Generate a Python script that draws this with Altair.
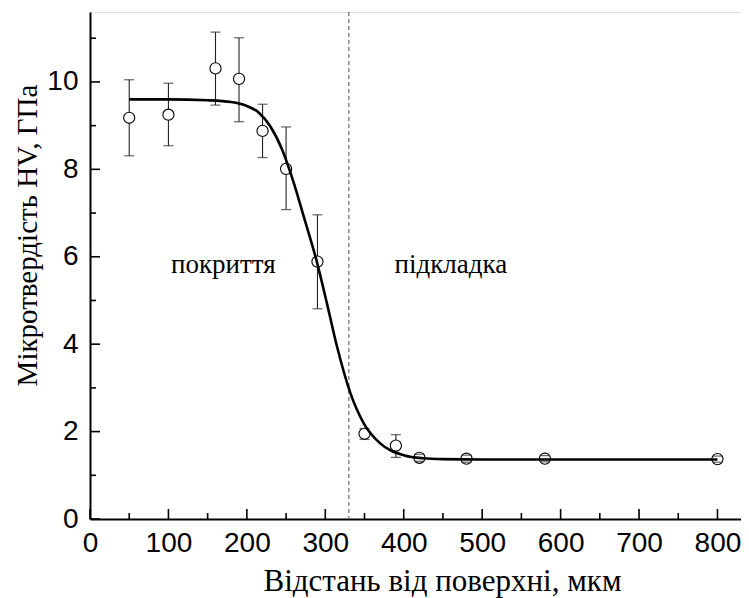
import altair as alt
import pandas as pd

# measured points
depth = [50, 100, 160, 190, 220, 250, 290, 350, 390, 420, 480, 580, 800]
hv = [9.18, 9.25, 10.31, 10.07, 8.88, 8.01, 5.89, 1.95, 1.68, 1.40, 1.38, 1.38, 1.37]
hv_lo = [8.31, 8.54, 9.47, 9.09, 8.27, 7.08, 4.81, 1.82, 1.41, 1.32, 1.30, 1.31, 1.30]
hv_hi = [10.05, 9.97, 11.14, 11.01, 9.49, 8.97, 6.96, 2.07, 1.93, 1.48, 1.46, 1.45, 1.44]

# fitted curve
curve_x = [50, 100, 150, 180, 200, 215, 230, 245, 260, 272, 289, 302, 315, 332, 349, 370, 400, 425, 450, 500, 600, 800]
curve_y = [9.60, 9.60, 9.58, 9.54, 9.45, 9.30, 8.98, 8.45, 7.68, 6.95, 5.90, 4.94, 3.94, 2.88, 2.19, 1.73, 1.46, 1.39, 1.37, 1.36, 1.36, 1.36]

boundary = [330]

labels = ["покриття", "підкладка"]
label_x = [170, 460]
label_y = [5.62, 5.62]

x_major = [0, 100, 200, 300, 400, 500, 600, 700, 800]
x_minor = [50, 150, 250, 350, 450, 550, 650, 750]
y_major = [0, 2, 4, 6, 8, 10]
y_minor = [1, 3, 5, 7, 9, 11]

W, H = 651, 507
SANS = "Liberation Sans"
SERIF = "Liberation Serif"

pts = pd.DataFrame({"x": depth, "y": hv, "lo": hv_lo, "hi": hv_hi})
crv = pd.DataFrame({"x": curve_x, "y": curve_y})
bnd = pd.DataFrame({"x": boundary})
lab = pd.DataFrame({"t": labels, "x": label_x, "y": label_y})
xmj = pd.DataFrame({"x": x_major})
xmn = pd.DataFrame({"x": x_minor})
ymj = pd.DataFrame({"y": y_major})
ymn = pd.DataFrame({"y": y_minor})

xs = alt.Scale(domain=[0, 830], nice=False, zero=False)
ys = alt.Scale(domain=[0, 11.6], nice=False, zero=False)

xaxis = alt.Axis(
    title="Відстань від поверхні, мкм", values=x_major, ticks=False, tickSize=0,
    grid=False, domainColor="black", domainWidth=2, labelFont=SANS,
    labelFontSize=28, labelColor="black", labelPadding=10, labelFlush=False,
    titleFont=SERIF, titleFontSize=31, titleFontWeight="normal",
    titleColor="black", titleX=352, titleY=71, titleBaseline="alphabetic",
    titleAlign="center",
)
yaxis = alt.Axis(
    title="Мікротвердість HV, ГПа", values=y_major, ticks=False, tickSize=0,
    grid=False, domainColor="black", domainWidth=2, labelFont=SANS,
    labelFontSize=28, labelColor="black", labelPadding=12, labelFlush=False,
    titleFont=SERIF, titleFontSize=29, titleFontWeight="normal",
    titleColor="black", titleX=-54, titleY=223, titleBaseline="alphabetic",
    titleAlign="center", titleAngle=270,
)

X = lambda f="x": alt.X(f"{f}:Q", scale=xs, axis=xaxis)
Y = lambda f="y": alt.Y(f"{f}:Q", scale=ys, axis=yaxis)

base_pts = alt.Chart(pts)

bars = base_pts.mark_rule(color="#222", strokeWidth=1.1).encode(x=X(), y=Y("lo"), y2="hi:Q")
circles = base_pts.mark_point(shape="circle", filled=False, fill="white", fillOpacity=1,
                              stroke="black", strokeWidth=1.1, size=125, opacity=1).encode(x=X(), y=Y())
cap_lo = base_pts.mark_tick(orient="horizontal", size=10, thickness=1.2, color="#222").encode(x=X(), y=Y("lo"))
cap_hi = base_pts.mark_tick(orient="horizontal", size=10, thickness=1.2, color="#222").encode(x=X(), y=Y("hi"))

line = alt.Chart(crv).mark_line(color="black", strokeWidth=2.6, interpolate="monotone").encode(x=X(), y=Y())

vline = alt.Chart(bnd).mark_rule(color="#808080", strokeWidth=1.4, strokeDash=[4, 3]).encode(x=X())

text = alt.Chart(lab).mark_text(font=SERIF, fontSize=27, baseline="alphabetic",
                                align="center", color="black").encode(x=X(), y=Y(), text="t:N")

xt_major = alt.Chart(xmj).mark_rule(color="black", strokeWidth=1.6).encode(
    x=X(), y=alt.value(H), y2=alt.value(H - 10))
xt_minor = alt.Chart(xmn).mark_rule(color="black", strokeWidth=1.6).encode(
    x=X(), y=alt.value(H), y2=alt.value(H - 6))
yt_major = alt.Chart(ymj).mark_rule(color="black", strokeWidth=1.6).encode(
    y=Y(), x=alt.value(0), x2=alt.value(10))
yt_minor = alt.Chart(ymn).mark_rule(color="black", strokeWidth=1.6).encode(
    y=Y(), x=alt.value(0), x2=alt.value(6))

chart = alt.layer(
    vline, bars, circles, cap_lo, cap_hi, line, text,
    xt_major, xt_minor, yt_major, yt_minor,
).properties(
    width=W, height=H,
    autosize=alt.AutoSizeParams(type="none"),
    padding={"left": 82, "top": 4, "right": 0, "bottom": 79},
).configure_view(stroke=None).configure(background="white")

chart.save("out.html", embed_options={"renderer": "svg", "actions": False})
